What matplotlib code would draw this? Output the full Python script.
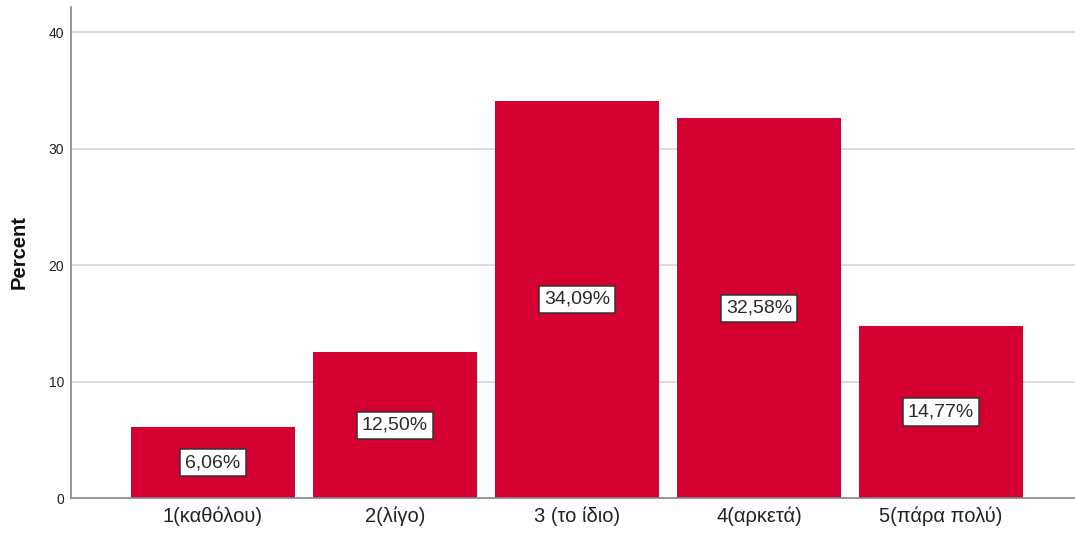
import matplotlib
matplotlib.use("Agg")
import matplotlib.pyplot as plt

plt.rcParams['font.family'] = ['Liberation Sans', 'DejaVu Sans']

categories = ["1(καθόλου)", "2(λίγο)", "3 (το ίδιο)", "4(αρκετά)", "5(πάρα πολύ)"]
percents = [6.06, 12.50, 34.09, 32.58, 14.77]
y_ticks = [0, 10, 20, 30, 40]

fig = plt.figure(figsize=(10.75, 5.39), dpi=100)
ax = fig.add_axes([71 / 1075, 41 / 539, 1 - 71 / 1075, (498 - 7) / 539])

x = list(range(len(categories)))
ax.bar(x, percents, width=0.9, color="#D50032", zorder=2)

for xi, v in zip(x, percents):
    ax.text(xi, v / 2, f"{v:.2f}%".replace(".", ","), ha="center", va="center",
            fontsize=14, color="#2a2a2a", zorder=3,
            bbox=dict(boxstyle="square,pad=0.26", facecolor="white",
                      edgecolor="#333333", linewidth=1.1))

ax.set_xlim(-0.78, 4.736)
ax.set_ylim(0, 42.15)
ax.set_yticks(y_ticks)
ax.set_xticks(x)
ax.set_xticklabels(categories, fontsize=14.5, color="#222222")
ax.tick_params(axis="y", length=0, pad=5, labelsize=10, labelcolor="#222222")
ax.tick_params(axis="x", length=0, pad=6)
ax.yaxis.grid(True, color="#d4d4d4", linewidth=1.2, zorder=0)
ax.set_axisbelow(True)
fig.text(19 / 1075, 1 - 252 / 539, "Percent", rotation=90, ha="center", va="center",
         fontsize=14.5, fontweight="bold", color="#111111")

for side in ("top", "right"):
    ax.spines[side].set_visible(False)
for side in ("left", "bottom"):
    ax.spines[side].set_color("#888888")
    ax.spines[side].set_linewidth(1.2)

fig.savefig("out.png", dpi=100)
